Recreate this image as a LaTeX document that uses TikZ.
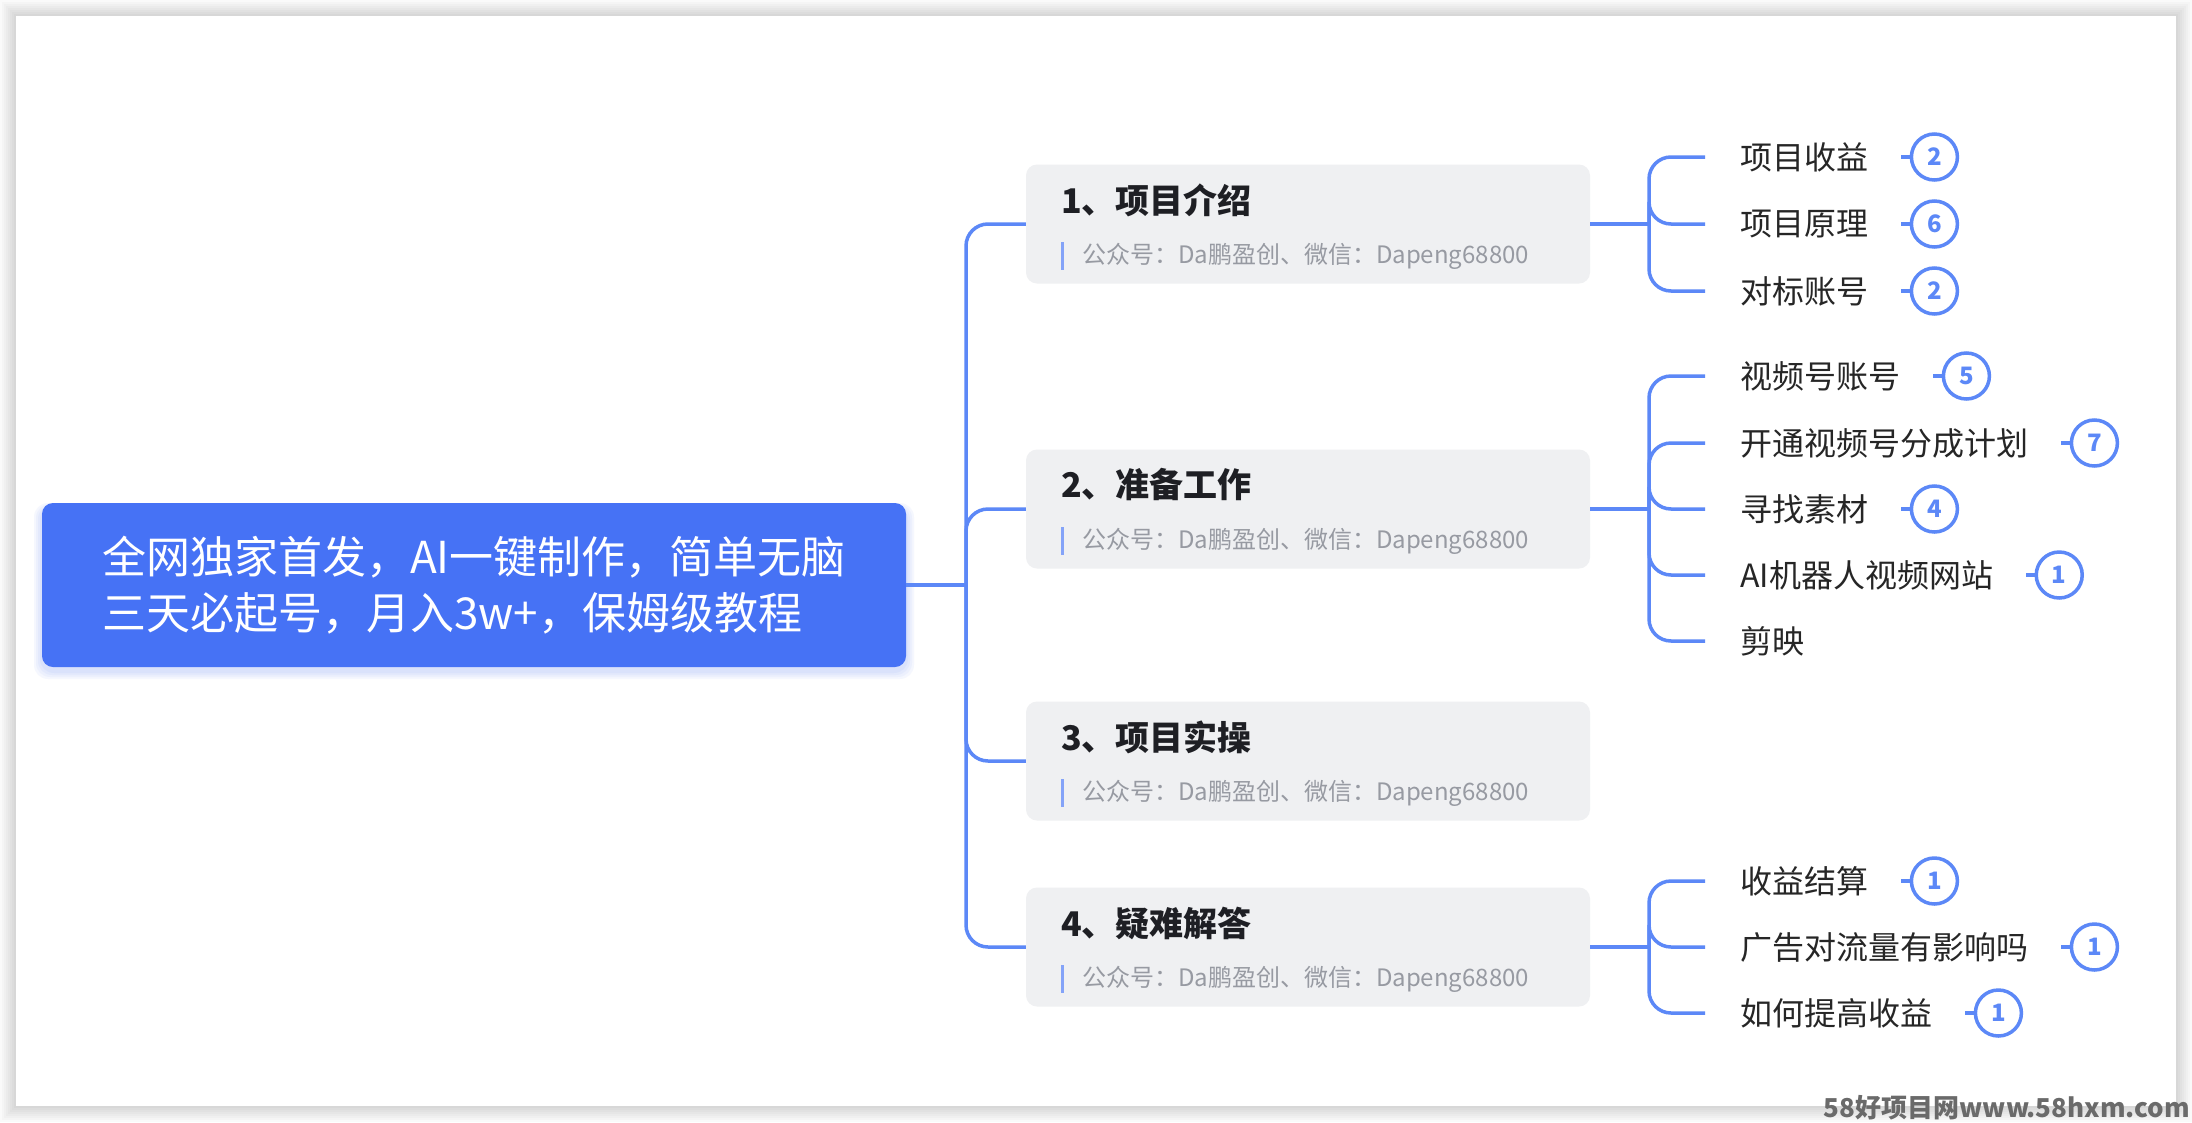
\documentclass[tikz,border=0pt]{standalone}
\usepackage{fontspec}
\setmainfont{Noto Sans CJK SC}
\definecolor{rootblue}{HTML}{4672F5}
\definecolor{connblue}{HTML}{5C88F7}
\definecolor{barblue}{HTML}{84A3F8}
\definecolor{boxgray}{HTML}{EFF0F2}
\definecolor{titleink}{HTML}{1E1F24}
\definecolor{subink}{HTML}{979AA2}
\definecolor{leafink}{HTML}{262626}
\definecolor{markgray}{HTML}{6A6A6A}
\tikzset{
  conn/.style={draw=connblue, line width=3.5pt, rounded corners=22pt},
  rootbox/.style={rectangle, rounded corners=11pt, fill=rootblue, text=white,
    minimum width=864pt, minimum height=164pt, inner xsep=60pt, text width=744pt,
    align=left, font=\fontsize{44}{56}\selectfont},
  catbox/.style={rectangle, rounded corners=11pt, fill=boxgray, minimum width=564pt, minimum height=119pt, inner sep=0pt},
  cattitle/.style={anchor=west, inner sep=0pt, text=titleink, font=\bfseries\fontsize{34}{40}\selectfont},
  catsub/.style={anchor=west, inner sep=0pt, text=subink, font=\fontsize{24}{28}\selectfont},
  subbar/.style={draw=barblue, line width=3pt},
  leaf/.style={anchor=west, inner sep=0pt, text=leafink, font=\fontsize{32}{36}\selectfont},
  badge/.style={circle, draw=connblue, line width=3.5pt, minimum size=46pt, inner sep=0pt,
    text=connblue, font=\bfseries\fontsize{24}{26}\selectfont},
}
\begin{document}
\begin{tikzpicture}[x=1pt,y=-1pt]
\useasboundingbox (0,0) rectangle (2192,1122);
% page shadow
\fill[white] (0,0) rectangle (2192,1122);
\foreach \i in {1,...,8}{
  \fill[black, opacity=0.018] ({16-2*\i},{16-2*\i}) rectangle ({2176+2*\i},{1106+2*\i});
}
\fill[white] (16,16) rectangle (2176,1106);

% root
\foreach \i in {1,...,4}{
  \fill[rootblue, opacity=0.05, rounded corners=14pt] ({42-2*\i},{503-1*\i+4}) rectangle ({906+2*\i},{667+2*\i+4});
}
\node[rootbox] (root) at (474,585) {全网独家首发，AI一键制作，简单无脑\\三天必起号，月入3w+，保姆级教程};

% category boxes
\node[catbox] (b1) at (1308,224) {};
\node[catbox] (b2) at (1308,509) {};
\node[catbox] (b3) at (1308,761) {};
\node[catbox] (b4) at (1308,947) {};
\foreach \b/\t in {b1/1、项目介绍, b2/2、准备工作, b3/3、项目实操, b4/4、疑难解答}{
  \node[cattitle] (\b t) at ([xshift=35pt,yshift=24pt]\b.west) {\t};
  \node[catsub] (\b s) at ([xshift=56pt,yshift=-32pt]\b.west) {公众号：Da鹏盈创、微信：Dapeng68800};
  \draw[subbar] ([xshift=36.5pt,yshift=-18pt]\b.west) -- ([xshift=36.5pt,yshift=-46pt]\b.west);
}

% trunk
\coordinate (tr) at (966,585);
\draw[conn] (root.east) -- (tr);
\foreach \b in {b1,b2,b3,b4}{
  \draw[conn] (tr) |- (\b.west);
}

% leaves
\node[leaf] (l11) at (1740,157) {项目收益};
\node[leaf] (l12) at (1740,224) {项目原理};
\node[leaf] (l13) at (1740,291) {对标账号};
\node[leaf] (l21) at (1740,376) {视频号账号};
\node[leaf] (l22) at (1740,443) {开通视频号分成计划};
\node[leaf] (l23) at (1740,509) {寻找素材};
\node[leaf] (l24) at (1740,575) {AI机器人视频网站};
\node[leaf] (l25) at (1740,641) {剪映};
\node[leaf] (l41) at (1740,881) {收益结算};
\node[leaf] (l42) at (1740,947) {广告对流量有影响吗};
\node[leaf] (l43) at (1740,1013) {如何提高收益};

\coordinate (h1) at (1649,224);
\coordinate (h2) at (1649,509);
\coordinate (h4) at (1649,947);
\draw[conn] (b1.east) -- (h1);
\draw[conn] (b2.east) -- (h2);
\draw[conn] (b4.east) -- (h4);
\foreach \l in {l11,l12,l13}{\draw[conn] (h1) |- ([xshift=-35pt]\l.west);}
\foreach \l in {l21,l22,l23,l24,l25}{\draw[conn] (h2) |- ([xshift=-35pt]\l.west);}
\foreach \l in {l41,l42,l43}{\draw[conn] (h4) |- ([xshift=-35pt]\l.west);}

% badges
\foreach \l/\n in {l11/2, l12/6, l13/2, l21/5, l22/7, l23/4, l24/1, l41/1, l42/1, l43/1}{
  \node[badge] (\l c) at ([xshift=66pt]\l.east) {\n};
  \draw[draw=connblue, line width=3.5pt] ([xshift=33pt]\l.east) -- (\l c.west);
}

% watermark
\node[anchor=east, inner sep=0pt, text=markgray, font=\bfseries\fontsize{26}{30}\selectfont] (wm) at (2190,1108) {58好项目网www.58hxm.com};
\end{tikzpicture}
\end{document}
